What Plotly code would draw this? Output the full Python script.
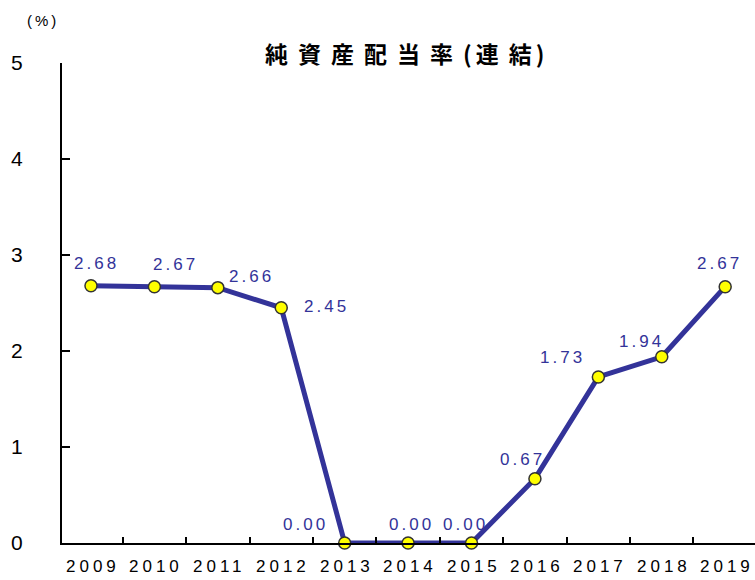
import plotly.graph_objects as go

years = ["2009", "2010", "2011", "2012", "2013", "2014", "2015", "2016", "2017", "2018", "2019"]
rates = [2.68, 2.67, 2.66, 2.45, 0.00, 0.00, 0.00, 0.67, 1.73, 1.94, 2.67]
y_ticks = [0, 1, 2, 3, 4, 5]

# per-point label offsets (px) relative to each marker
label_dx = [6, 21, 34, 45, -39, 3, -6, -12, -36, -20, -6]
label_dy = [22, 22, 11, 1, 19, 19, 19, 19, 19, 15, 23]

LINE = "#333399"
FONT = "Liberation Sans, Arial, sans-serif"


def spaced(s, px):
    return f'<span style="letter-spacing:{px}px">{s}</span>'


idx = list(range(len(years)))

fig = go.Figure()
fig.add_trace(go.Scatter(
    x=idx, y=rates, mode="lines+markers",
    line=dict(color=LINE, width=5),
    marker=dict(size=12, color="#FFFF00", line=dict(color="#333333", width=1.5)),
    cliponaxis=False, hoverinfo="skip", showlegend=False,
))

for i, v, dx, dy in zip(idx, rates, label_dx, label_dy):
    fig.add_annotation(
        x=i, y=v, text=spaced(f"{v:.2f}", 3), showarrow=False,
        xshift=dx, yshift=dy,
        font=dict(family=FONT, size=17, color=LINE),
    )

title_html = (
    spaced("純資産配当率", 10) + spaced("(", 4)
    + spaced("連", 10) + spaced("結", 4) + ")"
)
fig.add_annotation(
    xref="paper", yref="paper", x=0.5, y=1.0, xanchor="center", yanchor="bottom",
    text="<b>" + title_html + "</b>", showarrow=False,
    font=dict(family="Noto Sans CJK JP, sans-serif", size=23, color="black"),
    xshift=-4, yshift=-9,
)
fig.add_annotation(
    xref="paper", yref="paper", x=0, y=1, xanchor="center", yanchor="bottom",
    text=spaced("(%)", 3), showarrow=False, xshift=-19, yshift=32,
    font=dict(family=FONT, size=15, color="black"),
)

# ticks sit on the boundaries between years
fig.update_xaxes(
    range=[-0.457, 10.47],
    tickvals=[i + 0.5 for i in idx], ticktext=[""] * len(idx),
    showline=True, linecolor="black", linewidth=2,
    ticks="inside", ticklen=6, tickcolor="black", tickwidth=1.5,
    showgrid=False, zeroline=False, fixedrange=True,
)
# year labels centred under each point
for i, yr in zip(idx, years):
    fig.add_annotation(
        x=i, y=0, yref="paper", text=spaced(yr, 4), showarrow=False,
        yanchor="top", yshift=-12, xshift=2,
        font=dict(family=FONT, size=17, color="black"),
    )

fig.update_yaxes(
    range=[0, 5], tickvals=y_ticks,
    showline=True, linecolor="black", linewidth=2,
    ticks="inside", ticklen=8, tickcolor="black", tickwidth=1.5,
    ticklabelstandoff=33,
    tickfont=dict(family=FONT, size=21, color="black"),
    showgrid=False, zeroline=False, fixedrange=True,
)

fig.update_layout(
    width=755, height=580,
    margin=dict(l=62, r=0, t=63, b=37),
    paper_bgcolor="white", plot_bgcolor="white",
)

fig.write_html("out.html")
